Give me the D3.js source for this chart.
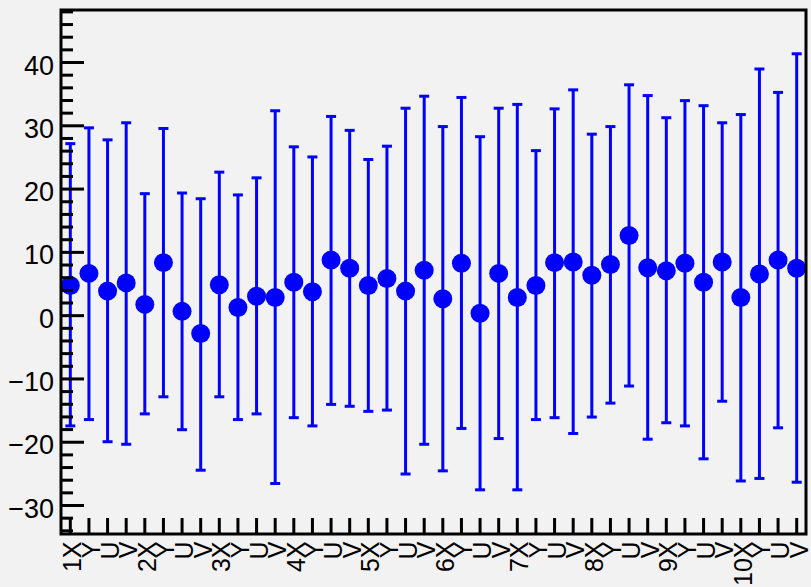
<!DOCTYPE html>
<html>
<head>
<meta charset="utf-8">
<script src="https://cdn.jsdelivr.net/npm/d3@7"></script>
<style>
  html, body { margin: 0; padding: 0; background: #f2f2f2; }
  svg { display: block; }
  text { font-family: "Liberation Sans", Arial, Helvetica, sans-serif; fill: #000; }
</style>
</head>
<body>
<svg id="chart" width="811" height="587"></svg>
<script>
// ---- data ----
const categories = ["1X","Y","U","V","2X","Y","U","V","3X","Y","U","V","4X","Y","U","V","5X","Y","U","V",
                    "6X","Y","U","V","7X","Y","U","V","8X","Y","U","V","9X","Y","U","V","10X","Y","U","V"];
const values = [4.7, 6.6, 3.8, 5.1, 1.7, 8.3, 0.6, -2.9, 4.8, 1.2,
                3.0, 2.8, 5.2, 3.7, 8.7, 7.4, 4.7, 5.8, 3.8, 7.1,
                2.6, 8.2, 0.3, 6.6, 2.8, 4.7, 8.3, 8.4, 6.3, 8.0,
                12.6, 7.5, 7.0, 8.2, 5.2, 8.4, 2.8, 6.5, 8.7, 7.4];
const upper = [27.1, 29.6, 27.7, 30.4, 19.2, 29.5, 19.3, 18.4, 22.6, 19.0,
               21.7, 32.3, 26.6, 25.0, 31.4, 29.2, 24.6, 26.7, 32.7, 34.6,
               29.8, 34.4, 28.2, 32.7, 33.3, 26.0, 32.6, 35.6, 28.6, 29.8,
               36.4, 34.7, 31.2, 33.9, 33.1, 30.4, 31.7, 38.9, 35.2, 41.3];
const lower = [-17.5, -16.5, -20.0, -20.4, -15.6, -12.9, -18.1, -24.5, -12.9, -16.5,
               -15.6, -26.6, -16.2, -17.5, -14.1, -14.4, -15.2, -15.0, -25.1, -20.4,
               -24.6, -17.9, -27.6, -19.5, -27.6, -16.5, -16.2, -18.7, -16.1, -13.9,
               -11.2, -19.6, -17.0, -17.5, -22.7, -13.6, -26.2, -25.8, -17.8, -26.4];
const yDomain = [-34.58, 48.22];
const yMajorTicks = [-30, -20, -10, 0, 10, 20, 30, 40];

// ---- layout ----
const W = 811, H = 587;
const margin = {left: 61, top: 10, right: 5, bottom: 53};
const svg = d3.select("#chart");
svg.append("rect").attr("width", W).attr("height", H).attr("fill", "#f2f2f2");

const x = d3.scaleBand()
  .domain(d3.range(categories.length))
  .range([margin.left, W - margin.right])
  .paddingInner(0).paddingOuter(0);
const y = d3.scaleLinear().domain(yDomain).range([H - margin.bottom, margin.top]);
const cx = i => x(i) + x.bandwidth() / 2;

const blue = "#0000ff";

// ---- error bars ----
const g = svg.append("g");
const idx = d3.range(values.length);
g.selectAll("line.err").data(idx).join("line")
  .attr("class", "err")
  .attr("x1", cx).attr("x2", cx)
  .attr("y1", i => y(upper[i])).attr("y2", i => y(lower[i]))
  .attr("stroke", blue).attr("stroke-width", 3);
const capW = 5;
g.selectAll("line.capT").data(idx).join("line")
  .attr("class", "capT")
  .attr("x1", i => cx(i) - capW).attr("x2", i => cx(i) + capW)
  .attr("y1", i => y(upper[i])).attr("y2", i => y(upper[i]))
  .attr("stroke", blue).attr("stroke-width", 3);
g.selectAll("line.capB").data(idx).join("line")
  .attr("class", "capB")
  .attr("x1", i => cx(i) - capW).attr("x2", i => cx(i) + capW)
  .attr("y1", i => y(lower[i])).attr("y2", i => y(lower[i]))
  .attr("stroke", blue).attr("stroke-width", 3);
g.selectAll("circle").data(idx).join("circle")
  .attr("cx", cx).attr("cy", i => y(values[i])).attr("r", 9.5)
  .attr("fill", blue);

// ---- axes ----
const fL = margin.left, fR = W - margin.right, fT = margin.top, fB = H - margin.bottom;

// minor y ticks
const yMinor = d3.range(-34, 49, 2).filter(v => v % 10 !== 0 && v >= yDomain[0] && v <= yDomain[1]);
const yAxisMinor = d3.axisRight(y).tickValues(yMinor).tickSize(12).tickFormat("");
const ga1 = svg.append("g").attr("transform", `translate(${fL},0)`).call(yAxisMinor);
ga1.select(".domain").remove();
ga1.selectAll("line").attr("stroke", "#000").attr("stroke-width", 3);

// major y ticks + labels
const yAxis = d3.axisRight(y).tickValues(yMajorTicks).tickSize(23)
  .tickFormat(d => (d < 0 ? "\u2212" + Math.abs(d) : String(d)));
const ga2 = svg.append("g").attr("transform", `translate(${fL},0)`).call(yAxis);
ga2.select(".domain").remove();
ga2.selectAll("line").attr("stroke", "#000").attr("stroke-width", 3);
ga2.selectAll("text")
  .attr("x", -7).attr("dy", "12px")
  .attr("text-anchor", "end")
  .attr("fill", "#000")
  .style("font-size", "27px")
  .style("font-family", "'Liberation Sans', Arial, sans-serif");

// x ticks
const xAxis = d3.axisTop(x).tickSize(16).tickFormat("");
const gx = svg.append("g").attr("transform", `translate(0,${fB})`).call(xAxis);
gx.select(".domain").remove();
gx.selectAll("line").attr("stroke", "#000").attr("stroke-width", 3);

// x labels (rotated)
svg.append("g").selectAll("text").data(idx).join("text")
  .attr("transform", i => `translate(${cx(i)},${fB + 7.5}) rotate(-90)`)
  .attr("text-anchor", "end")
  .attr("dy", "11px")
  .style("font-size", "25px")
  .text(i => categories[i]);

// frame
svg.append("rect")
  .attr("x", fL).attr("y", fT)
  .attr("width", fR - fL).attr("height", fB - fT)
  .attr("fill", "none").attr("stroke", "#000").attr("stroke-width", 3);
</script>
</body>
</html>
